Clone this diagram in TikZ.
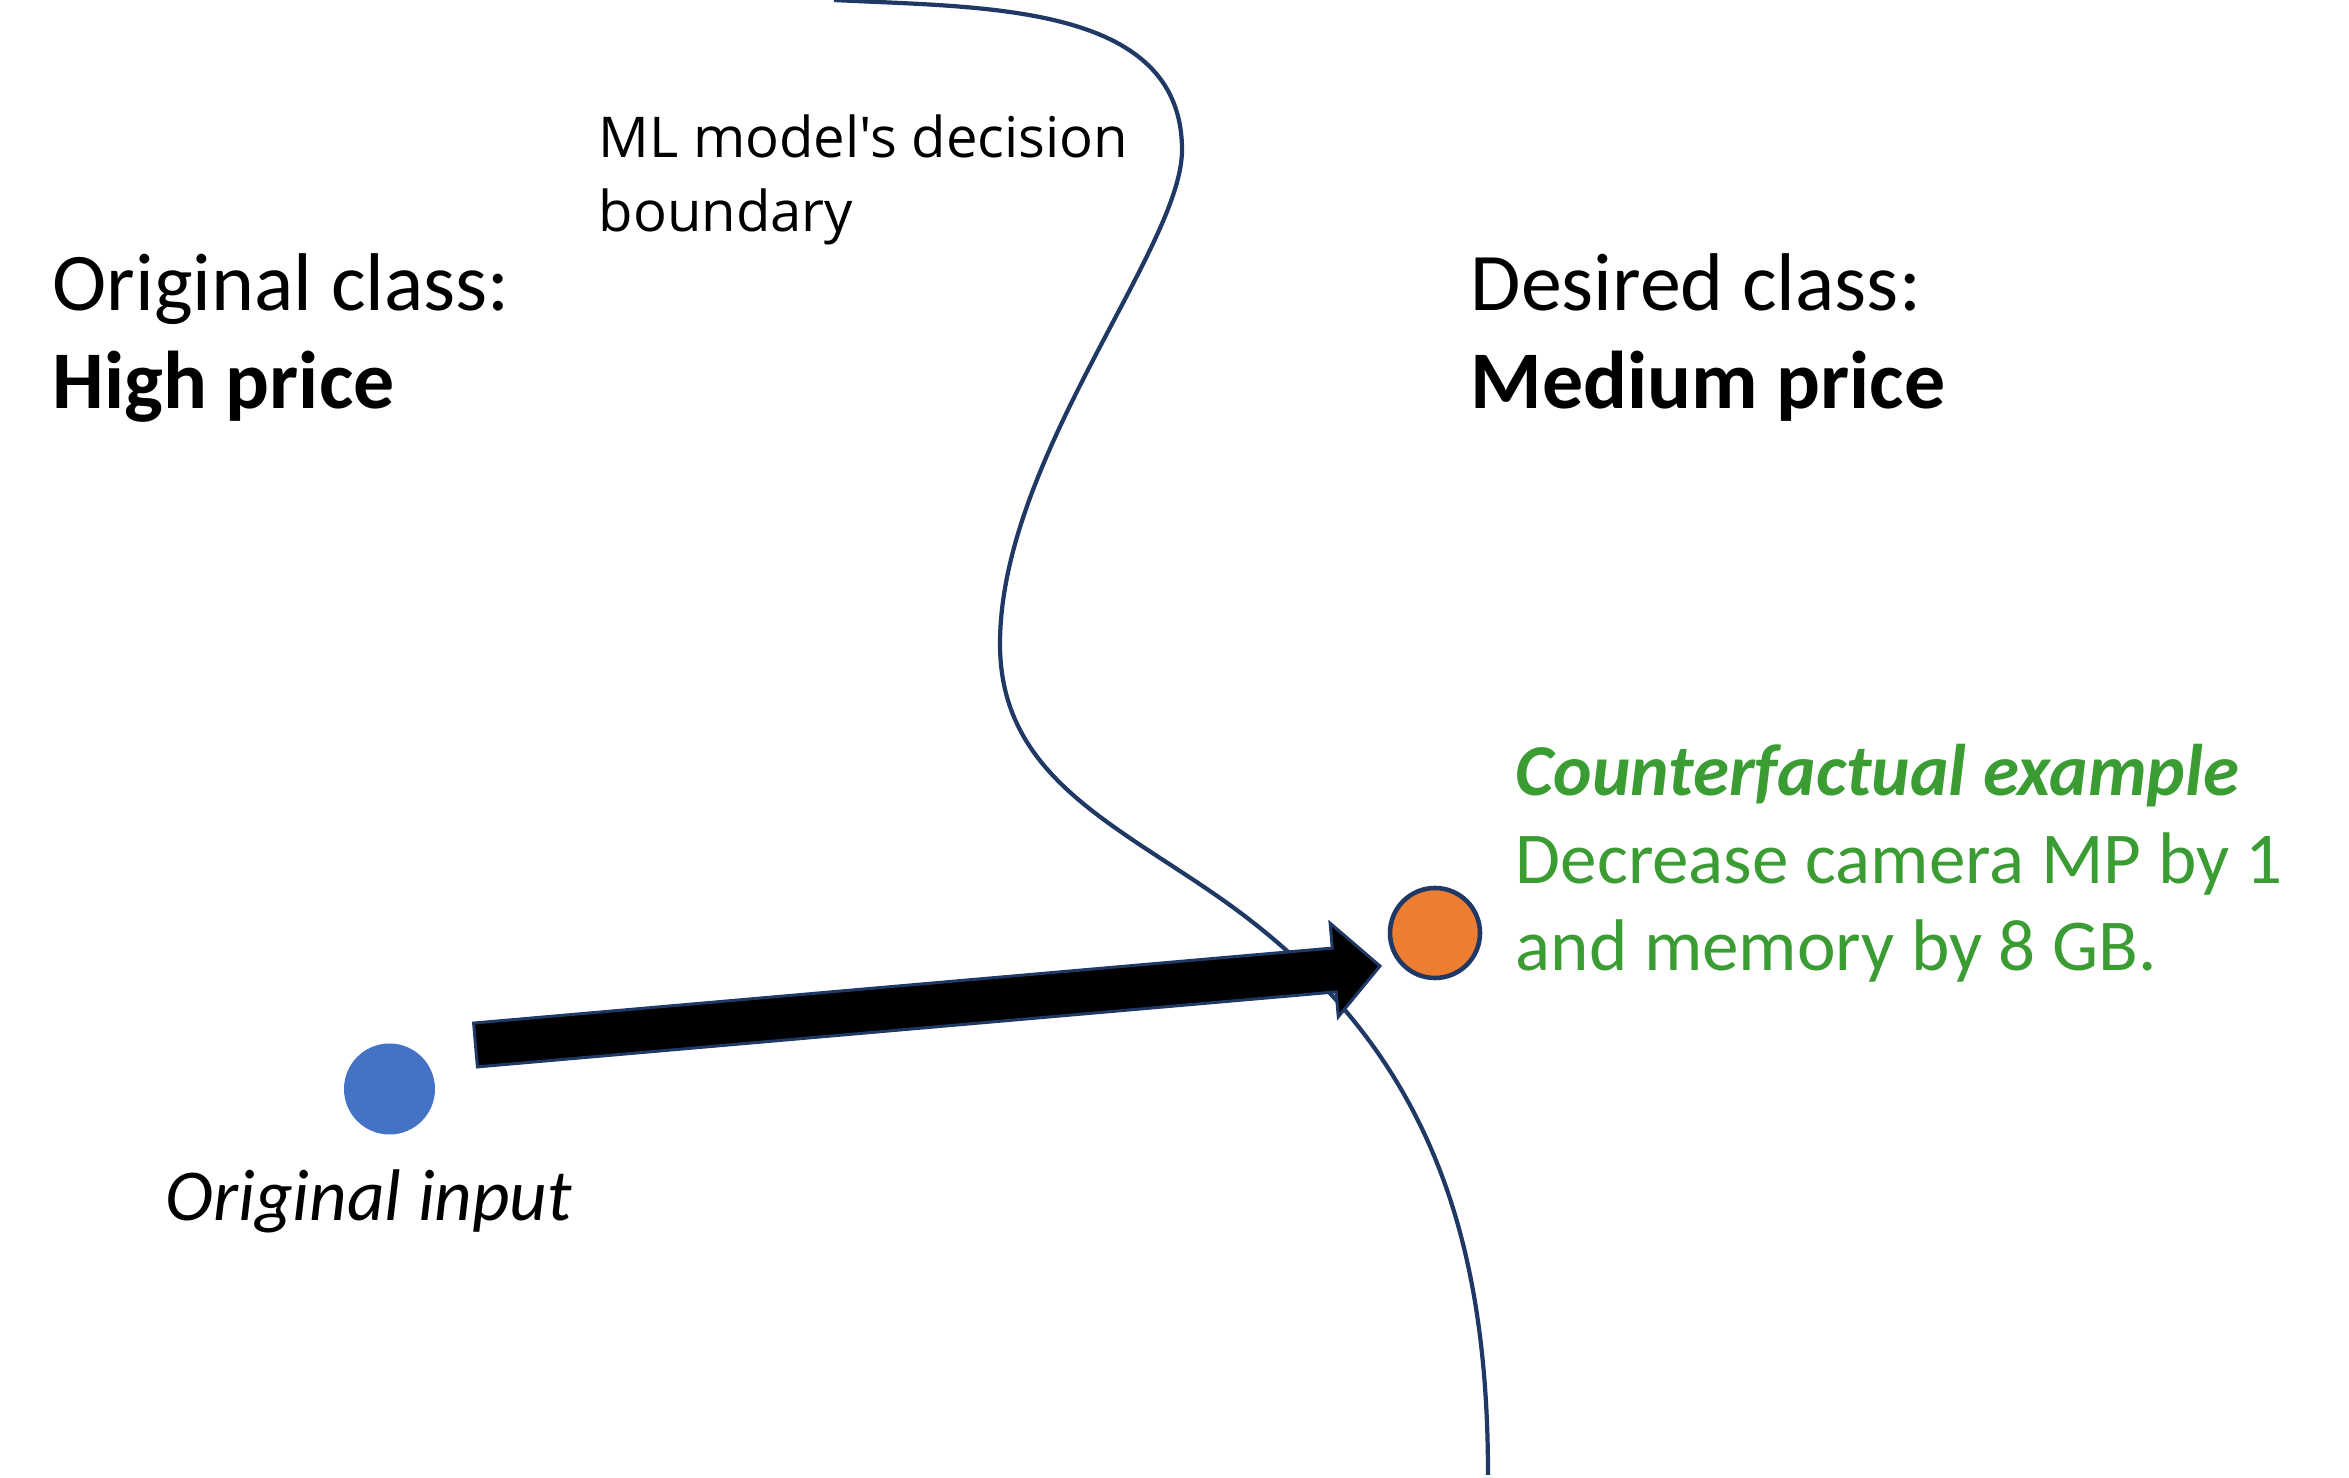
\documentclass[tikz,border=0pt]{standalone}
\usepackage{fontspec}
\setmainfont{Carlito}
\newfontfamily\segoe{Open Sans}
\usepackage{tikz}
\usetikzlibrary{positioning, calc}

\definecolor{navy}{HTML}{1F3864}
\definecolor{dotblue}{HTML}{4472C4}
\definecolor{dotorange}{HTML}{ED7D31}
\definecolor{cfgreen}{HTML}{3C9C34}

\begin{document}
\begin{tikzpicture}[
  dotnode/.style={circle, fill=dotblue, minimum size=0.91cm, inner sep=0pt},
  cfnode/.style={circle, draw=navy, line width=1.3pt, fill=dotorange, minimum size=0.90cm, inner sep=0pt},
  classlabel/.style={anchor=base west, inner sep=0pt, align=left, font=\fontsize{23.3}{28.1}\selectfont},
  notelabel/.style={anchor=base west, inner sep=0pt, align=left, font=\segoe\fontsize{16}{21.2}\selectfont},
  cflabel/.style={anchor=base west, inner sep=0pt, align=left, text=cfgreen, font=\fontsize{20.8}{25}\selectfont},
  boundary/.style={draw=navy, line width=1.2pt},
  bigarrow/.style={draw=navy, fill=black, line width=0.85pt, line join=miter}
]
\useasboundingbox (0,0) rectangle (23.49,14.78);

% Class labels (anchored on last line)
\node[classlabel] (origclass) at (0.52,10.69) {Original class:\\\textbf{High price}};
\node[classlabel] (desclass)  at (14.70,10.69) {Desired class:\\\textbf{Medium price}};
\node[notelabel]  (bndlabel)  at (5.98,12.46) {ML model's decision\\boundary};

% Decision boundary
\draw[boundary] (8.34,14.78) to[out=-3, in=90] (11.82,13.28)
  .. controls (11.82,12.3) and (10.0,10.2) .. (10.00,8.34)
  to[out=-90, in=145] (12.2,5.8)
  to[out=-35, in=90] (14.88,0.03);

% Points
\node[dotnode] (orig) at (3.895,3.89) {};
\node[cfnode]  (cf)   at (14.35,5.45) {};
\node[anchor=base west, inner sep=0pt, font=\fontsize{20.8}{25}\selectfont\itshape] (origlabel) at (1.65,2.57) {Original input};
\node[cflabel] (cflabel) at (15.15,5.07) {\textbf{\textit{Counterfactual example}}\\Decrease camera MP by 1\\and memory by 8 GB.};

% Arrow from original input to counterfactual
\coordinate (tail) at ($(orig)+(0.86,0.44)$);
\coordinate (tip)  at ($(cf)+(-0.55,-0.33)$);
\coordinate (neck) at ($(tip)!0.46cm!(tail)$);
\draw[bigarrow] ($(tail)!0.22cm!90:(tip)$) -- ($(neck)!0.22cm!-90:(tail)$)
  -- ($(neck)!0.47cm!-90:(tail)$) -- (tip) -- ($(neck)!0.47cm!90:(tail)$)
  -- ($(neck)!0.22cm!90:(tail)$) -- ($(tail)!0.22cm!-90:(tip)$) -- cycle;
\end{tikzpicture}
\end{document}
